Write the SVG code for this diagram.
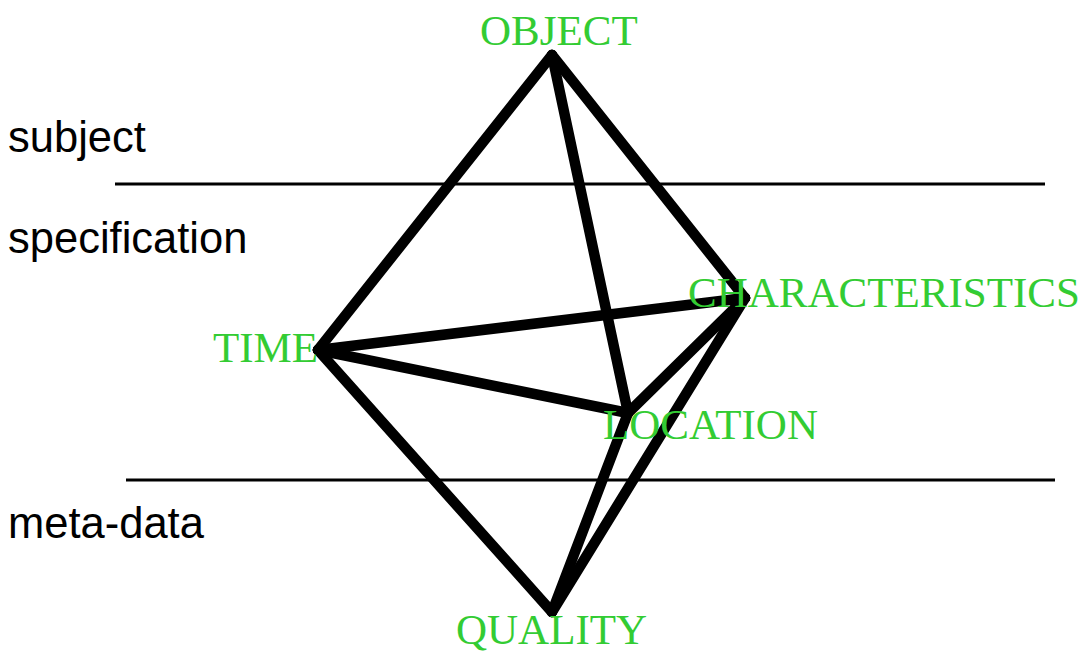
<svg xmlns="http://www.w3.org/2000/svg" width="1085" height="651" viewBox="0 0 1085 651">
<style>
.lbl{font-family:"Liberation Serif","Times New Roman",serif;font-size:43px;fill:#33cc33}
.side{font-family:"Liberation Sans",Arial,sans-serif;font-size:43.5px;fill:#000}
.edge{stroke:#000;stroke-width:10.5;stroke-linecap:round;stroke-linejoin:round;fill:none}
.sep{stroke:#000;stroke-width:3;fill:none}
</style>
<rect width="1085" height="651" fill="#fff"/>
<g id="separators">
<line class="sep" x1="115" y1="184" x2="1045" y2="184"/>
<line class="sep" x1="126" y1="480" x2="1055" y2="480"/>
</g>
<g id="side-labels">
<text class="side" x="8" y="152">subject</text>
<text class="side" x="8" y="253">specification</text>
<text class="side" x="8" y="538">meta-data</text>
</g>
<g id="connectors">
<line class="edge" x1="552" y1="55" x2="318" y2="350"/>
<line class="edge" x1="552" y1="55" x2="745" y2="298"/>
<line class="edge" x1="552" y1="55" x2="628" y2="413"/>
<line class="edge" x1="318" y1="350" x2="745" y2="298"/>
<line class="edge" x1="318" y1="350" x2="628" y2="413"/>
<line class="edge" x1="318" y1="350" x2="552" y2="612"/>
<line class="edge" x1="745" y1="298" x2="628" y2="413"/>
<line class="edge" x1="745" y1="298" x2="552" y2="612"/>
<line class="edge" x1="628" y1="413" x2="552" y2="612"/>
</g>
<g id="node-object"><text class="lbl" x="480" y="45">OBJECT</text></g>
<g id="node-characteristics"><text class="lbl" x="688" y="307">CHARACTERISTICS</text></g>
<g id="node-time"><text class="lbl" x="213" y="362">TIME</text></g>
<g id="node-location"><text class="lbl" x="603" y="439">LOCATION</text></g>
<g id="node-quality"><text class="lbl" x="456" y="644">QUALITY</text></g>
</svg>
